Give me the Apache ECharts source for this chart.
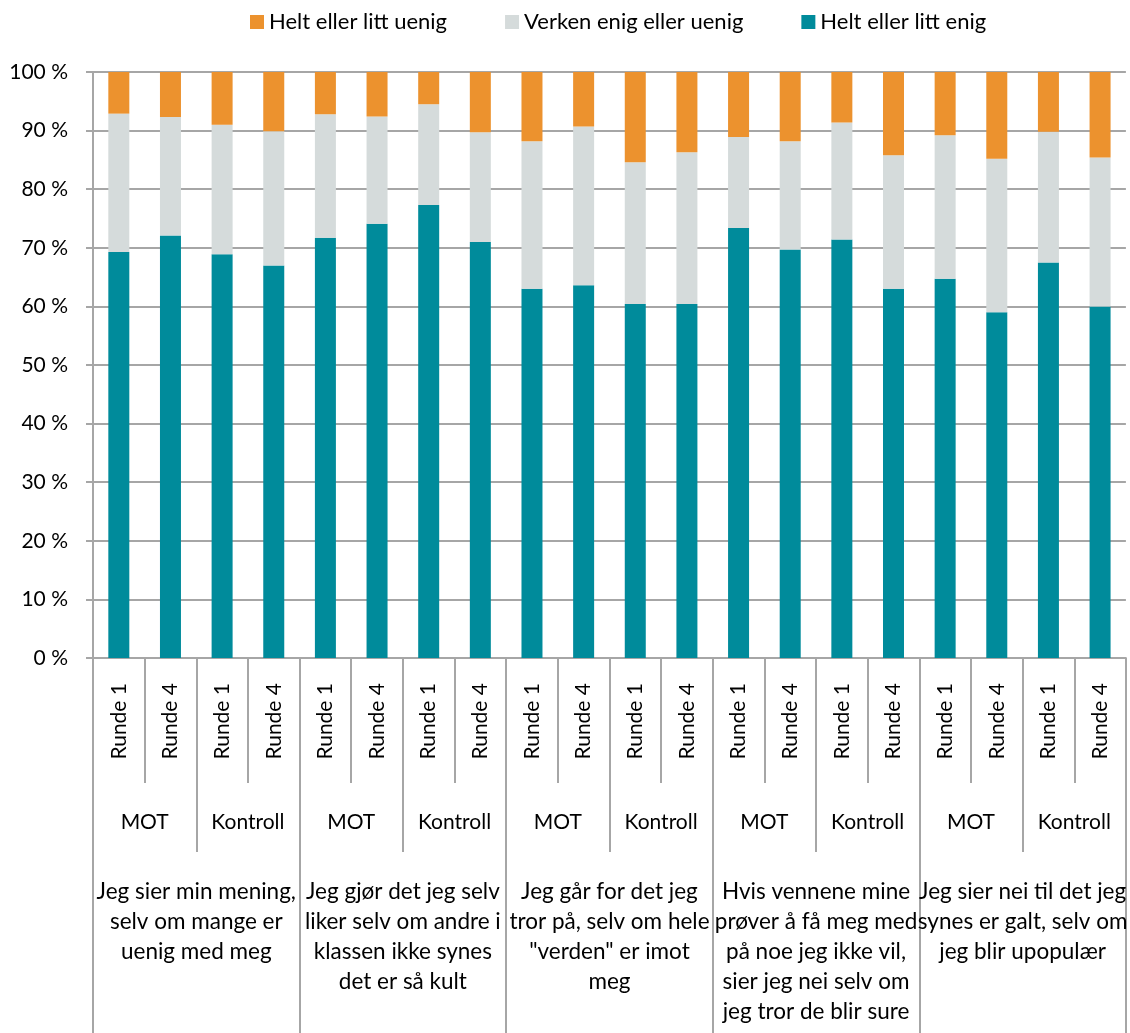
<!DOCTYPE html>
<html>
<head>
<meta charset="utf-8">
<script src="https://cdn.jsdelivr.net/npm/echarts@6/dist/echarts.min.js"></script>
<style>
  html, body { margin: 0; padding: 0; background: #fff; }
  #chart { width: 1130px; height: 1033px; }
</style>
</head>
<body>
<div id="chart"></div>
<script>
// x axis, three levels
const roundLabels = [
  'Runde 1', 'Runde 4', 'Runde 1', 'Runde 4',
  'Runde 1', 'Runde 4', 'Runde 1', 'Runde 4',
  'Runde 1', 'Runde 4', 'Runde 1', 'Runde 4',
  'Runde 1', 'Runde 4', 'Runde 1', 'Runde 4',
  'Runde 1', 'Runde 4', 'Runde 1', 'Runde 4'
]
const groupLabels = ['MOT', 'Kontroll', 'MOT', 'Kontroll', 'MOT', 'Kontroll', 'MOT', 'Kontroll', 'MOT', 'Kontroll']
const questionLabels = [
  'Jeg sier min mening,\nselv om mange er\nuenig med meg',
  'Jeg gjør det jeg selv\nliker selv om andre i\nklassen ikke synes\ndet er så kult',
  'Jeg går for det jeg\ntror på, selv om hele\n"verden" er imot\nmeg',
  'Hvis vennene mine\nprøver å få meg med\npå noe jeg ikke vil,\nsier jeg nei selv om\njeg tror de blir sure',
  'Jeg sier nei til det jeg\nsynes er galt, selv om\njeg blir upopulær'
]

// series (percent)
const enig = [69.3, 72.1, 68.9, 67.0, 71.7, 74.1, 77.3, 71.0, 63.0, 63.6, 60.4, 60.4, 73.4, 69.7, 71.4, 63.0, 64.7, 59.0, 67.5, 60.0]
const verken = [23.6, 20.2, 22.1, 22.9, 21.1, 18.3, 17.2, 18.7, 25.2, 27.1, 24.2, 25.9, 15.5, 18.5, 20.0, 22.8, 24.5, 26.2, 22.3, 25.4]
const uenig = [7.1, 7.7, 9.0, 10.1, 7.2, 7.6, 5.5, 10.3, 11.8, 9.3, 15.4, 13.7, 11.1, 11.8, 8.6, 14.2, 10.8, 14.8, 10.2, 14.6]

const FONT = 'Lato'
const LINE = '#a6a6a6'

const myChart = echarts.init(document.getElementById('chart'), null, { renderer: 'canvas' })

// extra category axes only used for the separator ticks and group labels
const sepAxis = (data, tickLen, labelMargin, extra) => ({
  type: 'category',
  data: data,
  position: 'bottom',
  gridIndex: 0,
  axisLine: { show: false },
  axisTick: { show: true, interval: 0, length: tickLen, lineStyle: { color: LINE, width: 2 } },
  axisLabel: Object.assign({
    interval: 0,
    margin: labelMargin,
    color: '#000',
    fontFamily: FONT,
    fontSize: 21
  }, extra || {}),
  splitLine: { show: false }
})

myChart.setOption({
  animation: false,
  textStyle: { fontFamily: FONT },
  legend: {
    data: ['Helt eller litt uenig', 'Verken enig eller uenig', 'Helt eller litt enig'],
    left: 245,
    top: 6,
    icon: 'rect',
    itemWidth: 14,
    itemHeight: 14,
    itemGap: 58,
    textStyle: { fontFamily: FONT, fontSize: 22, color: '#000' }
  },
  grid: {
    left: 93,
    right: 0,
    top: 72,
    bottom: 375
  },
  xAxis: [
    {
      type: 'category',
      data: roundLabels,
      position: 'bottom',
      axisLine: { show: true, lineStyle: { color: LINE, width: 2 } },
      axisTick: { show: true, interval: 0, length: 125, lineStyle: { color: LINE, width: 2 } },
      axisLabel: {
        interval: 0,
        rotate: 90,
        margin: 25,
        color: '#000',
        fontFamily: FONT,
        fontSize: 21
      }
    },
    sepAxis(groupLabels, 194, 154),
    sepAxis(questionLabels, 380, 219, { lineHeight: 30, align: 'center', fontSize: 22.5 })
  ],
  yAxis: {
    type: 'value',
    min: 0,
    max: 100,
    interval: 10,
    axisLine: { show: true, lineStyle: { color: LINE, width: 2 } },
    axisTick: { show: true, length: 7, lineStyle: { color: LINE, width: 2 } },
    axisLabel: {
      formatter: '{value} %',
      margin: 25,
      color: '#000',
      fontFamily: FONT,
      fontSize: 21
    },
    splitLine: { show: true, lineStyle: { color: LINE, width: 2 } }
  },
  series: [
    {
      name: 'Helt eller litt enig',
      type: 'bar',
      stack: 'total',
      barWidth: 21,
      itemStyle: { color: '#008b9b' },
      data: enig
    },
    {
      name: 'Verken enig eller uenig',
      type: 'bar',
      stack: 'total',
      barWidth: 21,
      itemStyle: { color: '#d5dbdb' },
      data: verken
    },
    {
      name: 'Helt eller litt uenig',
      type: 'bar',
      stack: 'total',
      barWidth: 21,
      itemStyle: { color: '#ec922e' },
      data: uenig
    }
  ]
})
</script>
</body>
</html>
